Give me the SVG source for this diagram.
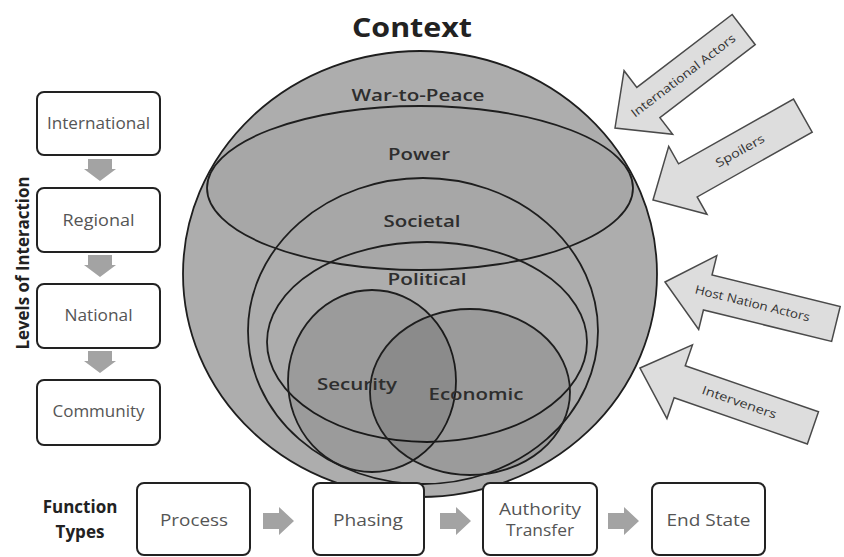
<svg xmlns="http://www.w3.org/2000/svg" width="844" height="557" viewBox="0 0 844 557">
<style>
.bg{fill:#ffffff}
.ring{stroke:#1e1e1e;stroke-width:1.8}
.lbl{font-family:"Open Sans","Noto Sans",sans-serif;font-weight:600;font-size:17px;fill:#2e2e2e;text-anchor:middle}
.box{fill:#ffffff;stroke:#222222;stroke-width:2}
.btxt{font-family:"Open Sans","Noto Sans",sans-serif;font-size:16px;fill:#555555;text-anchor:middle}
.head{font-family:"Open Sans","Noto Sans",sans-serif;font-weight:700;fill:#222222;text-anchor:middle}
.actor{fill:#dddddd;stroke:#4a4a4a;stroke-width:1.5;stroke-linejoin:miter}
.atxt{font-family:"Open Sans","Noto Sans",sans-serif;font-size:12px;fill:#333333;text-anchor:middle}
.flow{fill:#a3a3a3}
</style>
<rect class="bg" x="0" y="0" width="844" height="557"/>

<text class="head" x="412" y="37" font-size="27" textLength="120" lengthAdjust="spacingAndGlyphs">Context</text>

<g id="context-circle">
<ellipse class="ring" cx="420" cy="274" rx="237" ry="223" fill="#adadad"/>
<text class="lbl" x="418" y="101" textLength="133" lengthAdjust="spacingAndGlyphs">War-to-Peace</text>
</g>
<g id="power">
<ellipse class="ring" cx="420" cy="188" rx="213" ry="82" fill="#000000" fill-opacity="0.03"/>
<text class="lbl" x="419" y="160" textLength="62" lengthAdjust="spacingAndGlyphs">Power</text>
</g>
<g id="societal">
<ellipse class="ring" cx="423" cy="331" rx="175" ry="153" fill="none"/>
<text class="lbl" x="422" y="227" textLength="77" lengthAdjust="spacingAndGlyphs">Societal</text>
</g>
<g id="political">
<ellipse class="ring" cx="427" cy="342" rx="160" ry="100" fill="none"/>
<text class="lbl" x="427" y="285" textLength="79" lengthAdjust="spacingAndGlyphs">Political</text>
</g>
<g id="security">
<ellipse class="ring" cx="372" cy="381" rx="84" ry="91" fill="#000000" fill-opacity="0.1"/>
</g>
<g id="economic">
<ellipse class="ring" cx="470" cy="392" rx="100" ry="83" fill="#000000" fill-opacity="0.1"/>
</g>
<text class="lbl" x="357" y="390" textLength="80" lengthAdjust="spacingAndGlyphs">Security</text>
<text class="lbl" x="476" y="400" textLength="95" lengthAdjust="spacingAndGlyphs">Economic</text>

<g id="actor-international">
<g transform="translate(615,128) rotate(-37.4)">
<path class="actor" d="M0,0 L42,-40 L42,-19 L162,-19 L162,19 L42,19 L42,40 Z"/>
<text class="atxt" x="86" y="4" textLength="128" lengthAdjust="spacingAndGlyphs">International Actors</text>
</g>
</g>
<g id="actor-spoilers">
<g transform="translate(653,200) rotate(-29.4)">
<path class="actor" d="M0,0 L40,-39 L40,-19 L172,-19 L172,19 L40,19 L40,39 Z"/>
<text class="atxt" x="100" y="4" font-size="13" textLength="54" lengthAdjust="spacingAndGlyphs">Spoilers</text>
</g>
</g>
<g id="actor-host">
<g transform="translate(665,282) rotate(13.8)">
<path class="actor" d="M0,0 L44,-38 L44,-18 L176,-18 L176,18 L44,18 L44,38 Z"/>
<text class="atxt" x="90" y="4" textLength="118" lengthAdjust="spacingAndGlyphs">Host Nation Actors</text>
</g>
</g>
<g id="actor-interveners">
<g transform="translate(640,368) rotate(19.1)">
<path class="actor" d="M0,0 L42,-39 L42,-17 L183,-17 L183,17 L42,17 L42,39 Z"/>
<text class="atxt" x="105" y="4" font-size="13" textLength="78" lengthAdjust="spacingAndGlyphs">Interveners</text>
</g>
</g>

<text class="head" transform="translate(29,263) rotate(-90)" x="0" y="0" font-size="17" textLength="173" lengthAdjust="spacingAndGlyphs">Levels of Interaction</text>

<g id="level-international">
<rect class="box" x="37" y="92" width="123" height="63" rx="7"/>
<text class="btxt" x="98.5" y="129" font-size="15" textLength="103" lengthAdjust="spacingAndGlyphs">International</text>
</g>
<g id="level-regional">
<rect class="box" x="37" y="188" width="123" height="64" rx="7"/>
<text class="btxt" x="98.5" y="226" font-size="15" textLength="72" lengthAdjust="spacingAndGlyphs">Regional</text>
</g>
<g id="level-national">
<rect class="box" x="37" y="284" width="123" height="64" rx="7"/>
<text class="btxt" x="98.5" y="321" font-size="15" textLength="68" lengthAdjust="spacingAndGlyphs">National</text>
</g>
<g id="level-community">
<rect class="box" x="37" y="380" width="123" height="65" rx="7"/>
<text class="btxt" x="98.5" y="417" font-size="15" textLength="92" lengthAdjust="spacingAndGlyphs">Community</text>
</g>

<text class="head" x="80" y="513" font-size="17">Function</text>
<text class="head" x="80" y="538" font-size="17">Types</text>

<g id="fn-process">
<rect class="box" x="137" y="483" width="113" height="72" rx="7"/>
<text class="btxt" x="194" y="526" font-size="17" textLength="68" lengthAdjust="spacingAndGlyphs">Process</text>
</g>
<g id="fn-phasing">
<rect class="box" x="313" y="483" width="111" height="72" rx="7"/>
<text class="btxt" x="368" y="526" font-size="17" textLength="70" lengthAdjust="spacingAndGlyphs">Phasing</text>
</g>
<g id="fn-authority">
<rect class="box" x="483" y="483" width="114" height="72" rx="7"/>
<text class="btxt" x="540" y="515" font-size="17" textLength="82" lengthAdjust="spacingAndGlyphs">Authority</text>
<text class="btxt" x="540" y="536" font-size="17" textLength="68" lengthAdjust="spacingAndGlyphs">Transfer</text>
</g>
<g id="fn-endstate">
<rect class="box" x="652" y="483" width="113" height="72" rx="7"/>
<text class="btxt" x="708.5" y="526" font-size="17" textLength="84" lengthAdjust="spacingAndGlyphs">End State</text>
</g>

<g id="connectors">
<path class="flow" d="M88,159 L112,159 L112,169 L116,169 L100,181 L84,169 L88,169 Z"/>
<path class="flow" d="M88,255 L112,255 L112,265 L116,265 L100,277 L84,265 L88,265 Z"/>
<path class="flow" d="M88,351 L112,351 L112,361 L116,361 L100,373 L84,361 L88,361 Z"/>
<path class="flow" d="M263,513 L279,513 L279,507 L294,521 L279,535 L279,529 L263,529 Z"/>
<path class="flow" d="M440,513 L456,513 L456,507 L471,521 L456,535 L456,529 L440,529 Z"/>
<path class="flow" d="M608,513 L624,513 L624,507 L639,521 L624,535 L624,529 L608,529 Z"/>
</g>
</svg>
